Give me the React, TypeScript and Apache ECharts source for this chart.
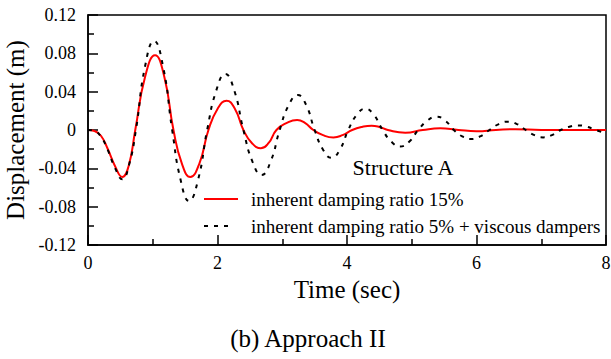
import React, { useEffect, useRef } from "react";
import * as echarts from "echarts";

// Structure A, inherent damping ratio 15%
const redTime = [0, 0.1, 0.2, 0.3, 0.42, 0.53, 0.63, 0.73, 0.88, 1.035, 1.18, 1.32, 1.45, 1.58, 1.72, 1.86, 2.0, 2.14, 2.27, 2.4, 2.53, 2.67, 2.79, 2.91, 3.07, 3.23, 3.35, 3.48, 3.63, 3.79, 3.93, 4.08, 4.23, 4.38, 4.5, 4.63, 4.9, 5.17, 5.44, 5.72, 6.0, 6.3, 6.6, 7.0, 7.5, 8.0];
const redDisp = [0, -0.001, -0.006, -0.019, -0.038, -0.049, -0.037, 0, 0.055, 0.078, 0.055, 0, -0.035, -0.049, -0.035, 0, 0.022, 0.0306, 0.022, 0, -0.0135, -0.019, -0.0135, 0, 0.0074, 0.0104, 0.0074, 0, -0.0054, -0.0077, -0.0054, 0, 0.0032, 0.0045, 0.0032, 0, -0.0028, 0, 0.0017, 0, -0.0012, 0, 0.0008, 0, 0, 0];

// inherent damping ratio 5% + viscous dampers
const blackTime = [0, 0.1, 0.2, 0.3, 0.42, 0.53, 0.635, 0.74, 0.88, 1.02, 1.16, 1.3, 1.43, 1.56, 1.7, 1.84, 1.98, 2.12, 2.26, 2.4, 2.54, 2.68, 2.82, 2.96, 3.1, 3.24, 3.37, 3.5, 3.63, 3.76, 3.89, 4.02, 4.15, 4.28, 4.415, 4.55, 4.685, 4.82, 4.96, 5.1, 5.24, 5.38, 5.515, 5.65, 5.78, 5.91, 6.055, 6.2, 6.345, 6.49, 6.625, 6.76, 6.895, 7.03, 7.165, 7.3, 7.435, 7.57, 7.705, 7.84, 8.0];
const blackDisp = [0, -0.001, -0.007, -0.02, -0.04, -0.0515, -0.036, 0, 0.066, 0.093, 0.066, 0, -0.052, -0.074, -0.052, 0, 0.041, 0.0585, 0.041, 0, -0.033, -0.047, -0.033, 0, 0.026, 0.0365, 0.026, 0, -0.0205, -0.029, -0.0205, 0, 0.0157, 0.0222, 0.0157, 0, -0.0122, -0.0172, -0.0122, 0, 0.0098, 0.0139, 0.0098, 0, -0.0067, -0.0095, -0.0067, 0, 0.0062, 0.0087, 0.0062, 0, -0.0054, -0.0077, -0.0054, 0, 0.0034, 0.0048, 0.0034, 0, -0.0035];

const seriesNames = ["inherent damping ratio 15%", "inherent damping ratio 5% + viscous dampers"];
const xTitle = "Time (sec)";
const yTitle = "Displacement (m)";
const annotation = "Structure A";
const caption = "(b) Approach II";

const FONT = "'Liberation Serif', 'Times New Roman', serif";

export default function App() {
  const ref = useRef<HTMLDivElement>(null);
  useEffect(() => {
    if (!ref.current) return;
    const chart = echarts.init(ref.current, undefined, { renderer: "svg" });
    const redData = redTime.map((t, i) => [t, redDisp[i]]);
    const blackData = blackTime.map((t, i) => [t, blackDisp[i]]);
    const axisCommon = {
      axisLine: { onZero: false, lineStyle: { color: "#000", width: 1.5 } },
      axisTick: { inside: true, length: 10, lineStyle: { color: "#000", width: 1.5 } },
      minorTick: { show: true, splitNumber: 2, length: 6, lineStyle: { color: "#000", width: 1.5 } },
      splitLine: { show: false },
      minorSplitLine: { show: false },
    };
    const legendText = { color: "#000", fontFamily: FONT, fontSize: 19, lineHeight: 20 };
    chart.setOption({
      animation: false,
      backgroundColor: "#fff",
      grid: {
        left: 88, right: 5, top: 15, bottom: 114,
        show: true, borderColor: "#000", borderWidth: 1.5,
        containLabel: false, outerBoundsMode: "none",
      },
      xAxis: {
        type: "value", min: 0, max: 8, interval: 2,
        ...axisCommon,
        axisLabel: { color: "#000", fontFamily: FONT, fontSize: 18, margin: 9 },
        name: xTitle, nameLocation: "middle", nameGap: 31,
        nameTextStyle: { color: "#000", fontFamily: FONT, fontSize: 25 },
      },
      yAxis: {
        type: "value", min: -0.12, max: 0.12, interval: 0.04,
        ...axisCommon,
        axisLabel: {
          color: "#000", fontFamily: FONT, fontSize: 18, margin: 12,
          formatter: (v: number) => (Math.abs(v) < 1e-9 ? "0" : v.toFixed(2)),
        },
        name: yTitle, nameLocation: "middle", nameGap: 48,
        nameTextStyle: { color: "#000", fontFamily: FONT, fontSize: 25 },
      },
      legend: [
        {
          data: [seriesNames[0]], orient: "vertical", left: 203, top: 189, padding: 0,
          itemWidth: 34, itemHeight: 14, itemStyle: { opacity: 0 },
          textStyle: { ...legendText, padding: [0, 0, 0, 8] },
        },
        {
          data: [seriesNames[1]], orient: "vertical", left: 203, top: 216, padding: 0,
          itemWidth: 29, itemHeight: 14, itemStyle: { opacity: 0 },
          textStyle: { ...legendText, padding: [0, 0, 0, 13] },
        },
      ],
      graphic: [
        {
          type: "text", x: 403, y: 167,
          style: { text: annotation, fill: "#000", font: `22px ${FONT}`, textAlign: "center", textVerticalAlign: "middle" },
        },
        {
          type: "text", x: 308, y: 338,
          style: { text: caption, fill: "#000", font: `25px ${FONT}`, textAlign: "center", textVerticalAlign: "middle" },
        },
      ],
      series: [
        {
          name: seriesNames[0], type: "line", data: redData, smooth: 0.5, symbol: "none",
          lineStyle: { color: "#ff0000", width: 2 }, itemStyle: { color: "#ff0000" },
        },
        {
          name: seriesNames[1], type: "line", data: blackData, smooth: 0.5, symbol: "none",
          lineStyle: { color: "#000", width: 2, type: [4, 6] }, itemStyle: { color: "#000" },
        },
      ],
    });
    return () => chart.dispose();
  }, []);
  return <div ref={ref} style={{ position: "fixed", left: 0, top: 0, width: 611, height: 359 }} />;
}
